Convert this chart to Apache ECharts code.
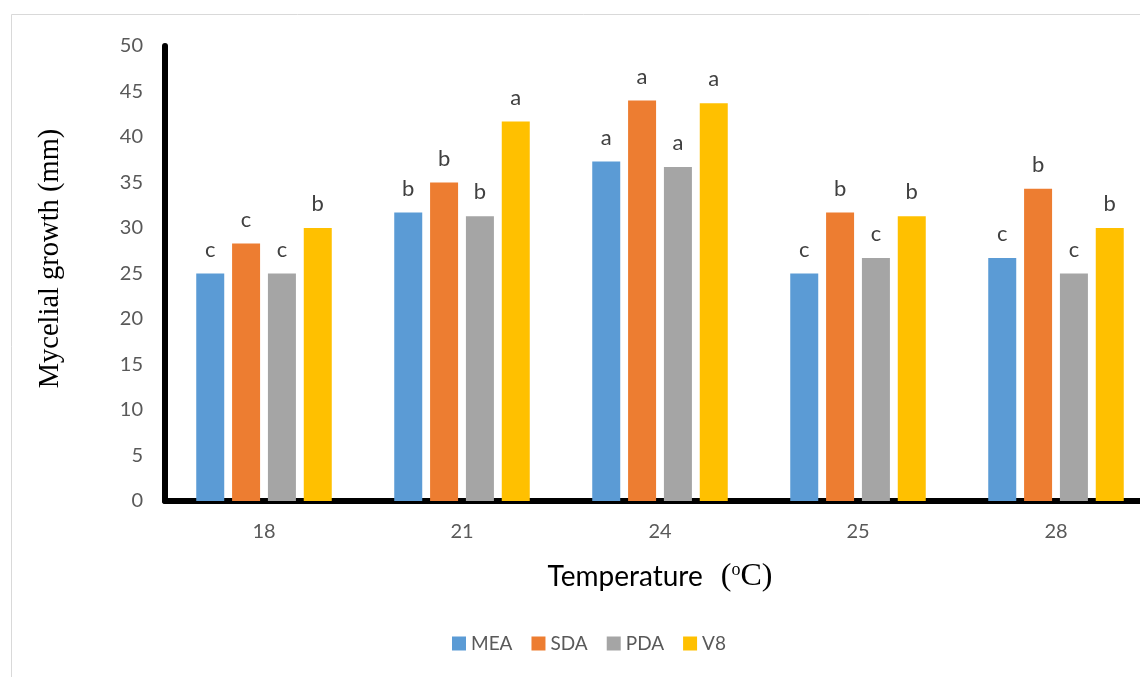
<!DOCTYPE html>
<html>
<head>
<meta charset="utf-8">
<script src="https://cdn.jsdelivr.net/npm/echarts@6/dist/echarts.min.js"></script>
<style>html,body{margin:0;padding:0;background:#fff;overflow:hidden;width:1140px;height:677px;}#c{width:1155px;height:677px;}</style>
</head>
<body>
<div id="c"></div>
<script>
var categories = ['18', '21', '24', '25', '28'];
var seriesNames = ['MEA', 'SDA', 'PDA', 'V8'];
var MEA = [25, 31.7, 37.3, 25, 26.7];
var SDA = [28.3, 35, 44, 31.7, 34.3];
var PDA = [25, 31.3, 36.7, 26.7, 25];
var V8 = [30, 41.7, 43.7, 31.3, 30];
var MEA_letters = ['c', 'b', 'a', 'c', 'c'];
var SDA_letters = ['c', 'b', 'a', 'b', 'b'];
var PDA_letters = ['c', 'b', 'a', 'c', 'c'];
var V8_letters = ['b', 'a', 'a', 'b', 'b'];
var yTicks = [0, 5, 10, 15, 20, 25, 30, 35, 40, 45, 50];
var colors = ['#5B9BD5', '#ED7D31', '#A5A5A5', '#FFC000'];

var values = [MEA, SDA, PDA, V8];
var letters = [MEA_letters, SDA_letters, PDA_letters, V8_letters];
var FONT = 'Lato';

var chart = echarts.init(document.getElementById('c'));
var series = seriesNames.map(function (n, i) {
  return {
    name: n,
    type: 'bar',
    data: values[i],
    barWidth: 28,
    barGap: '28%',
    itemStyle: { color: colors[i] },
    label: {
      show: true,
      position: 'top',
      distance: 13,
      fontFamily: FONT,
      fontSize: 22,
      color: '#404040',
      formatter: function (p) { return letters[i][p.dataIndex]; }
    }
  };
});

chart.setOption({
  animation: false,
  backgroundColor: '#fff',
  color: colors,
  graphic: [{
    type: 'rect',
    shape: { x: 11.5, y: 14.5, width: 1200, height: 700 },
    style: { fill: 'none', stroke: '#d9d9d9', lineWidth: 1 },
    z: -10
  }],
  grid: { left: 165, top: 46, right: 0, bottom: 176 },
  legend: {
    data: seriesNames,
    left: 447,
    top: 629,
    itemWidth: 14,
    itemHeight: 14,
    itemGap: 19,
    icon: 'rect',
    textStyle: { fontFamily: FONT, fontSize: 19, color: '#595959' }
  },
  xAxis: {
    type: 'category',
    data: categories,
    axisLine: { lineStyle: { color: '#000', width: 6 } },
    axisTick: { show: false },
    axisLabel: { fontFamily: FONT, fontSize: 20, color: '#595959', margin: 21 },
    name: '{a|Temperature}{b|(}{s|o}{b|C)}',
    nameLocation: 'middle',
    nameGap: 60,
    nameTextStyle: {
      rich: {
        a: { fontFamily: FONT, fontSize: 28, color: '#000', padding: [0, 18, 0, 0] },
        b: { fontFamily: 'Liberation Serif', fontSize: 32, color: '#000' },
        s: { fontFamily: 'Liberation Serif', fontSize: 18, color: '#000', verticalAlign: 'top' }
      }
    }
  },
  yAxis: {
    type: 'value',
    min: 0,
    max: 50,
    interval: 5,
    splitLine: { show: false },
    axisLine: { show: true, lineStyle: { color: '#000', width: 6 } },
    axisTick: { show: false },
    axisLabel: {
      fontFamily: FONT, fontSize: 20, color: '#595959', margin: 22,
      formatter: function (v) { return yTicks.indexOf(v) >= 0 ? String(v) : ''; }
    },
    name: 'Mycelial growth (mm)',
    nameLocation: 'middle',
    nameGap: 100,
    nameTextStyle: { fontFamily: 'Liberation Serif', fontSize: 28.5, color: '#000', padding: [0, 0, 0, 30] }
  },
  series: series
});
</script>
</body>
</html>
